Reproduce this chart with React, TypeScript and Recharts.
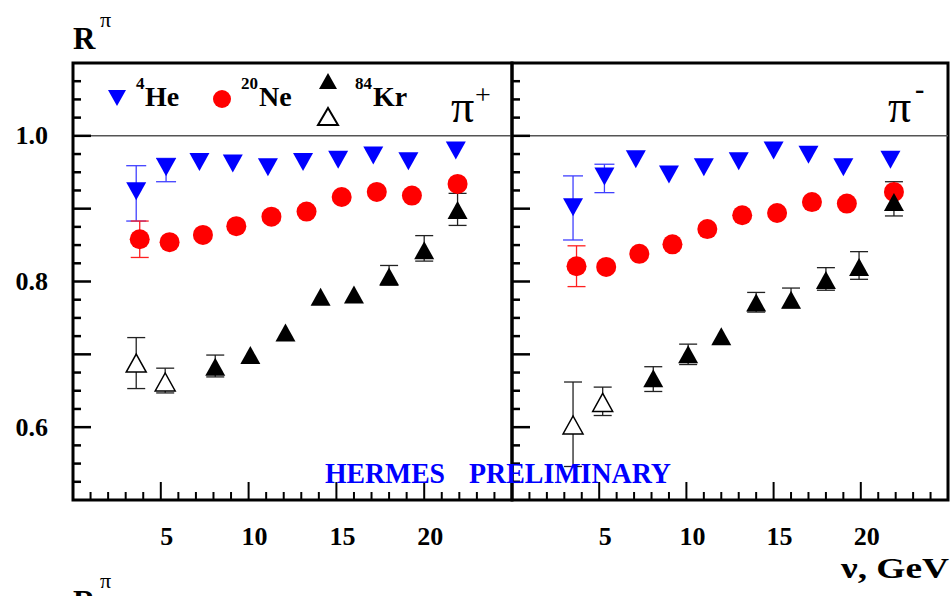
import { ErrorBar, ReferenceArea, ReferenceLine, Scatter, ScatterChart, XAxis, YAxis } from "recharts";

const SERIF = "'Liberation Serif', 'Times New Roman', Times, serif";

type Err = number | [number, number];

// pi+ panel (nu in GeV, ratio R)
const nuHePlus = [3.6, 5.3, 7.2, 9.1, 11.1, 13.1, 15.1, 17.1, 19.1, 21.8];
const rHePlus = [0.924, 0.957, 0.964, 0.962, 0.957, 0.964, 0.967, 0.973, 0.965, 0.98];
const errHePlus: Err[] = [[0.041, 0.035], [0.02, 0.012], 0, 0, 0, 0, 0, 0, 0, 0];

const nuNePlus = [3.8, 5.5, 7.4, 9.3, 11.3, 13.3, 15.3, 17.3, 19.3, 21.9];
const rNePlus = [0.858, 0.854, 0.864, 0.876, 0.889, 0.896, 0.916, 0.923, 0.918, 0.934];
const errNePlus: Err[] = [0.025, 0, 0, 0, 0, 0, 0, 0, 0, 0];

const nuKrOpenPlus = [3.6, 5.25];
const rKrOpenPlus = [0.688, 0.662];
const errKrOpenPlus: Err[] = [0.035, [0.015, 0.019]];

const nuKrPlus = [8.1, 10.1, 12.1, 14.1, 16.0, 18.0, 20.0, 21.9];
const rKrPlus = [0.683, 0.699, 0.73, 0.779, 0.782, 0.807, 0.843, 0.898];
const errKrPlus: Err[] = [[0.014, 0.016], 0, 0, 0, 0, [0.012, 0.015], [0.015, 0.02], [0.021, 0.023]];

// pi- panel
const nuHeMinus = [3.5, 5.3, 7.1, 9.0, 11.0, 13.0, 15.0, 17.0, 19.0, 21.7];
const rHeMinus = [0.902, 0.944, 0.968, 0.947, 0.957, 0.965, 0.98, 0.974, 0.957, 0.967];
const errHeMinus: Err[] = [[0.045, 0.043], [0.022, 0.017], 0, 0, 0, 0, 0, 0, 0, 0];

const nuNeMinus = [3.7, 5.4, 7.3, 9.2, 11.2, 13.2, 15.2, 17.2, 19.2, 21.9];
const rNeMinus = [0.821, 0.82, 0.838, 0.851, 0.872, 0.891, 0.894, 0.909, 0.907, 0.923];
const errNeMinus: Err[] = [0.028, 0, 0, 0, 0, 0, 0, 0, 0, 0];

const nuKrOpenMinus = [3.5, 5.2];
const rKrOpenMinus = [0.603, 0.634];
const errKrOpenMinus: Err[] = [[0.057, 0.059], [0.018, 0.021]];

const nuKrMinus = [8.1, 10.1, 12.0, 14.0, 16.0, 18.0, 19.9, 21.9];
const rKrMinus = [0.667, 0.7, 0.725, 0.771, 0.775, 0.802, 0.82, 0.909];
const errKrMinus: Err[] = [[0.018, 0.016], [0.014, 0.014], 0, [0.013, 0.014], [0.011, 0.016], [0.014, 0.017], [0.017, 0.021], [0.019, 0.028]];

// axes
const xMajor = [5, 10, 15, 20];
const xTicks = Array.from({ length: 24 }, (_, i) => i + 1);
const yLabels = [0.6, 0.8, 1.0];
const yTicks = Array.from({ length: 23 }, (_, i) => +(0.525 + i * 0.025).toFixed(3));

const pts = (xs: number[], ys: number[], errs: Err[]) =>
  xs.map((x, i) => ({ x, y: ys[i], err: errs[i] || undefined }));

const triDown = (fill: string) => (p: any) => (
  <path d={`M${p.cx - 10},${p.cy - 9}L${p.cx + 10},${p.cy - 9}L${p.cx},${p.cy + 9}Z`} fill={fill} />
);
const triUp = (fill: string, stroke?: string) => (p: any) => (
  <path
    d={`M${p.cx - 10},${p.cy + 9}L${p.cx + 10},${p.cy + 9}L${p.cx},${p.cy - 9}Z`}
    fill={fill}
    stroke={stroke ?? "none"}
    strokeWidth={1.5}
  />
);
const dot = (fill: string) => (p: any) => <circle cx={p.cx} cy={p.cy} r={10} fill={fill} />;

function YTick({ x, y, payload, showLabel }: any) {
  const v = payload.value;
  const major = Math.abs(v * 10 - Math.round(v * 10)) < 1e-6;
  const label = yLabels.find((l) => Math.abs(l - v) < 1e-6);
  return (
    <g>
      <line x1={x} y1={y} x2={x + (major ? 18 : 8)} y2={y} stroke="#000" strokeWidth={2.5} />
      {showLabel && label !== undefined && (
        <text x={x - 25} y={y + 8.5} textAnchor="end" fontFamily={SERIF} fontWeight="bold" fontSize={26} fill="#000">
          {label.toFixed(1)}
        </text>
      )}
    </g>
  );
}

function XTick({ x, y, payload }: any) {
  const v = payload.value;
  const major = xMajor.includes(v);
  return (
    <g>
      <line x1={x} y1={y} x2={x} y2={y - (major ? 18 : 8)} stroke="#000" strokeWidth={2} />
      {major && (
        <text x={x + 6} y={y + 45} textAnchor="middle" fontFamily={SERIF} fontWeight="bold" fontSize={26} fill="#000">
          {v}
        </text>
      )}
    </g>
  );
}

function Panel({
  left,
  width,
  yAxisWidth,
  rightMargin,
  showLabels,
  he,
  ne,
  krOpen,
  kr,
}: {
  left: number;
  width: number;
  yAxisWidth: number;
  rightMargin: number;
  showLabels: boolean;
  he: any[];
  ne: any[];
  krOpen: any[];
  kr: any[];
}) {
  return (
    <div style={{ position: "absolute", left, top: 0 }}>
      <ScatterChart width={width} height={596} margin={{ top: 63, right: rightMargin, bottom: 36, left: 0 }}>
        <XAxis
          type="number"
          dataKey="x"
          domain={[0, 25]}
          ticks={xTicks}
          interval={0}
          height={60}
          axisLine={false}
          tickLine={false}
          tickSize={0}
          tickMargin={0}
          tick={<XTick />}
          allowDataOverflow
        />
        <YAxis
          type="number"
          dataKey="y"
          domain={[0.5, 1.1]}
          ticks={yTicks}
          interval={0}
          width={yAxisWidth}
          axisLine={false}
          tickLine={false}
          tickSize={0}
          tickMargin={0}
          tick={<YTick showLabel={showLabels} />}
          allowDataOverflow
        />
        <ReferenceLine y={1} stroke="#555" strokeWidth={1.5} />
        <ReferenceArea x1={0} x2={25} y1={0.5} y2={1.1} fill="none" stroke="#000" strokeWidth={3} ifOverflow="visible" />
        <Scatter data={he} shape={triDown("#0000ff")} isAnimationActive={false}>
          <ErrorBar dataKey="err" direction="y" width={10} stroke="#4040ff" strokeWidth={1.3} />
        </Scatter>
        <Scatter data={ne} shape={dot("#ff0000")} isAnimationActive={false}>
          <ErrorBar dataKey="err" direction="y" width={9} stroke="#ff2020" strokeWidth={1.3} />
        </Scatter>
        <Scatter data={krOpen} shape={triUp("#fff", "#000")} isAnimationActive={false}>
          <ErrorBar dataKey="err" direction="y" width={9} stroke="#222" strokeWidth={1.3} />
        </Scatter>
        <Scatter data={kr} shape={triUp("#000")} isAnimationActive={false}>
          <ErrorBar dataKey="err" direction="y" width={9} stroke="#222" strokeWidth={1.3} />
        </Scatter>
      </ScatterChart>
    </div>
  );
}

const txt = { fontFamily: SERIF, fill: "#000" } as const;

function Overlay() {
  return (
    <svg width={950} height={596} style={{ position: "absolute", left: 0, top: 0, pointerEvents: "none" }}>
      {/* axis titles */}
      <text x={73} y={49} {...txt} fontWeight="bold" fontSize={31}>R</text>
      <text x={100} y={27} {...txt} fontSize={22}>π</text>
      <text x={949} y={578} {...txt} fontWeight="bold" fontSize={29} textAnchor="end" textLength={108} lengthAdjust="spacingAndGlyphs">ν, GeV</text>
      <text x={73} y={612} {...txt} fontWeight="bold" fontSize={31}>R</text>
      <text x={100} y={588} {...txt} fontSize={22}>π</text>

      {/* legend */}
      <path d="M108,90L126,90L117,106Z" fill="#0000ff" />
      <text x={136} y={89} {...txt} fontWeight="bold" fontSize={17}>4</text>
      <text x={145} y={106} {...txt} fontWeight="bold" fontSize={28}>He</text>
      <circle cx={222} cy={99} r={9} fill="#ff0000" />
      <text x={241} y={89} {...txt} fontWeight="bold" fontSize={17}>20</text>
      <text x={259} y={106} {...txt} fontWeight="bold" fontSize={28}>Ne</text>
      <path d="M319,89L337,89L328,73Z" fill="#000" />
      <path d="M318,125L338,125L328,108Z" fill="#fff" stroke="#000" strokeWidth={2} />
      <text x={355} y={89} {...txt} fontWeight="bold" fontSize={17}>84</text>
      <text x={373} y={106} {...txt} fontWeight="bold" fontSize={28}>Kr</text>

      <text x={451} y={122} {...txt} fontSize={46}>π</text>
      <text x={475} y={104} {...txt} fontSize={28}>+</text>
      <text x={888} y={122} {...txt} fontSize={46}>π</text>
      <text x={915} y={98} {...txt} fontWeight="bold" fontSize={28}>-</text>

      <text x={325} y={483} fontFamily={SERIF} fontWeight="bold" fontSize={29} fill="#0000ff" textLength={120} lengthAdjust="spacingAndGlyphs">HERMES</text>
      <text x={469} y={483} fontFamily={SERIF} fontWeight="bold" fontSize={29} fill="#0000ff" textLength={202} lengthAdjust="spacingAndGlyphs">PRELIMINARY</text>
    </svg>
  );
}

export default function App() {
  return (
    <div style={{ position: "absolute", left: 0, top: 0, width: 950, height: 596, overflow: "hidden", background: "#fff" }}>
      <Panel
        left={0}
        width={515}
        yAxisWidth={73}
        rightMargin={3}
        showLabels
        he={pts(nuHePlus, rHePlus, errHePlus)}
        ne={pts(nuNePlus, rNePlus, errNePlus)}
        krOpen={pts(nuKrOpenPlus, rKrOpenPlus, errKrOpenPlus)}
        kr={pts(nuKrPlus, rKrPlus, errKrPlus)}
      />
      <Panel
        left={450}
        width={500}
        yAxisWidth={62}
        rightMargin={2}
        showLabels={false}
        he={pts(nuHeMinus, rHeMinus, errHeMinus)}
        ne={pts(nuNeMinus, rNeMinus, errNeMinus)}
        krOpen={pts(nuKrOpenMinus, rKrOpenMinus, errKrOpenMinus)}
        kr={pts(nuKrMinus, rKrMinus, errKrMinus)}
      />
      <Overlay />
    </div>
  );
}
